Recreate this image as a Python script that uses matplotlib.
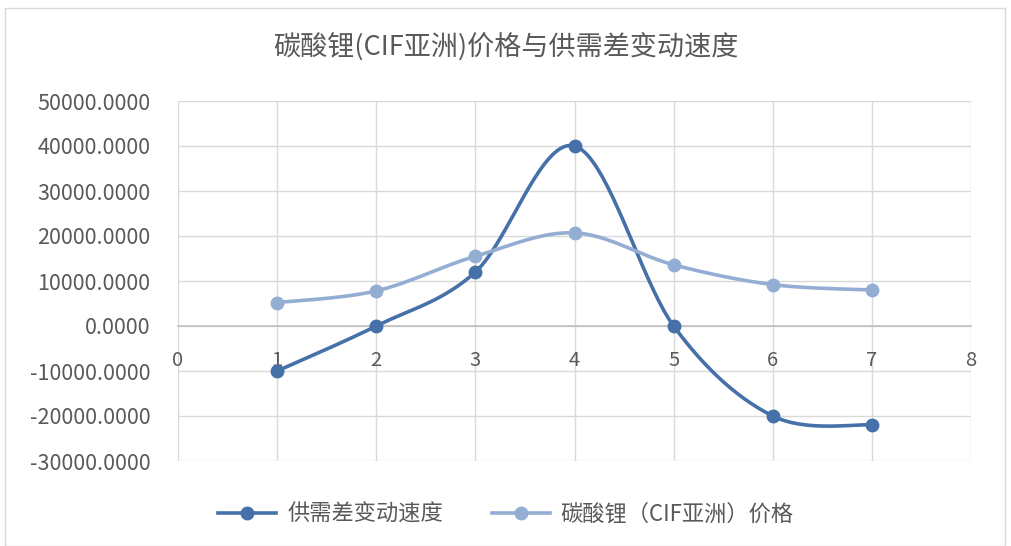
import matplotlib
matplotlib.use("Agg")
import matplotlib.pyplot as plt
from matplotlib.patches import Rectangle
import numpy as np

plt.rcParams['font.family'] = ['Noto Sans CJK SC', 'DejaVu Sans']

x = [1, 2, 3, 4, 5, 6, 7]
gap_speed = [-10000, 0, 12000, 40000, 0, -20000, -22000]
price = [5200, 7800, 15500, 20700, 13600, 9200, 8000]

title = "碳酸锂(CIF亚洲)价格与供需差变动速度"
label_gap = "供需差变动速度"
label_price = "碳酸锂（CIF亚洲）价格"

dark = "#4571A8"
light = "#94AED3"
grey = "#595959"


def smooth(xs, ys, n=40):
    # excel-like smoothing: cubic bezier with catmull-rom control points
    xs = np.asarray(xs, float)
    ys = np.asarray(ys, float)
    px = np.concatenate([[xs[0]], xs, [xs[-1]]])
    py = np.concatenate([[ys[0]], ys, [ys[-1]]])
    outx, outy = [], []
    t = np.linspace(0, 1, n)
    for i in range(1, len(px) - 2):
        p0 = np.array([px[i], py[i]])
        p3 = np.array([px[i + 1], py[i + 1]])
        c1 = p0 + (np.array([px[i + 1], py[i + 1]]) - np.array([px[i - 1], py[i - 1]])) / 6
        c2 = p3 - (np.array([px[i + 2], py[i + 2]]) - np.array([px[i], py[i]])) / 6
        b = ((1 - t) ** 3)[:, None] * p0 + (3 * (1 - t) ** 2 * t)[:, None] * c1 \
            + (3 * (1 - t) * t ** 2)[:, None] * c2 + (t ** 3)[:, None] * p3
        outx.extend(b[:, 0])
        outy.extend(b[:, 1])
    return outx, outy


fig = plt.figure(figsize=(10.12, 5.46), dpi=100)
fig.patches.append(Rectangle((5 / 1012, 0), 1000 / 1012, 1 - 8 / 546, transform=fig.transFigure,
                             fill=False, edgecolor="#d9d9d9", linewidth=1))
ax = fig.add_axes([178 / 1012, 1 - 461 / 546, (971 - 178) / 1012, (461 - 101) / 546])

sx, sy = smooth(x, gap_speed)
ax.plot(sx, sy, color=dark, linewidth=2.6, zorder=3)
ax.plot(x, gap_speed, "o", color=dark, markersize=9, zorder=4)
sx, sy = smooth(x, price)
ax.plot(sx, sy, color=light, linewidth=2.6, zorder=3)
ax.plot(x, price, "o", color=light, markersize=9, zorder=4)

ax.set_xlim(0, 8)
ax.set_ylim(-30000, 50000)
ax.set_xticks(range(0, 9))
ax.set_yticks(range(-30000, 50001, 10000))
ax.set_yticklabels([f"{v:.4f}" for v in range(-30000, 50001, 10000)])
ax.grid(True, color="#d9d9d9", linewidth=1)
ax.set_axisbelow(True)
for s in ["top", "right", "left"]:
    ax.spines[s].set_visible(False)
ax.spines["bottom"].set_position(("data", 0))
ax.spines["bottom"].set_color("#bfbfbf")
ax.spines["bottom"].set_linewidth(1.2)
ax.tick_params(axis="both", length=0, colors=grey)
ax.tick_params(axis="x", pad=17, labelsize=14.5)
ax.tick_params(axis="y", pad=20, labelsize=15.5)

fig.text(0.5, 1 - 47 / 546, title, ha="center", va="center", fontsize=19.5, color=grey)

h1, = ax.plot([], [], "-o", color=dark, linewidth=2.6, markersize=9)
h2, = ax.plot([], [], "-o", color=light, linewidth=2.6, markersize=9)
fig.legend([h1, h2], [label_gap, label_price], loc="center", bbox_to_anchor=(0.5, 1 - 514 / 546),
           ncol=2, frameon=False, fontsize=16, labelcolor=grey, handlelength=2.6,
           handletextpad=0.5, columnspacing=2.2)

fig.savefig("out.png", dpi=100)
